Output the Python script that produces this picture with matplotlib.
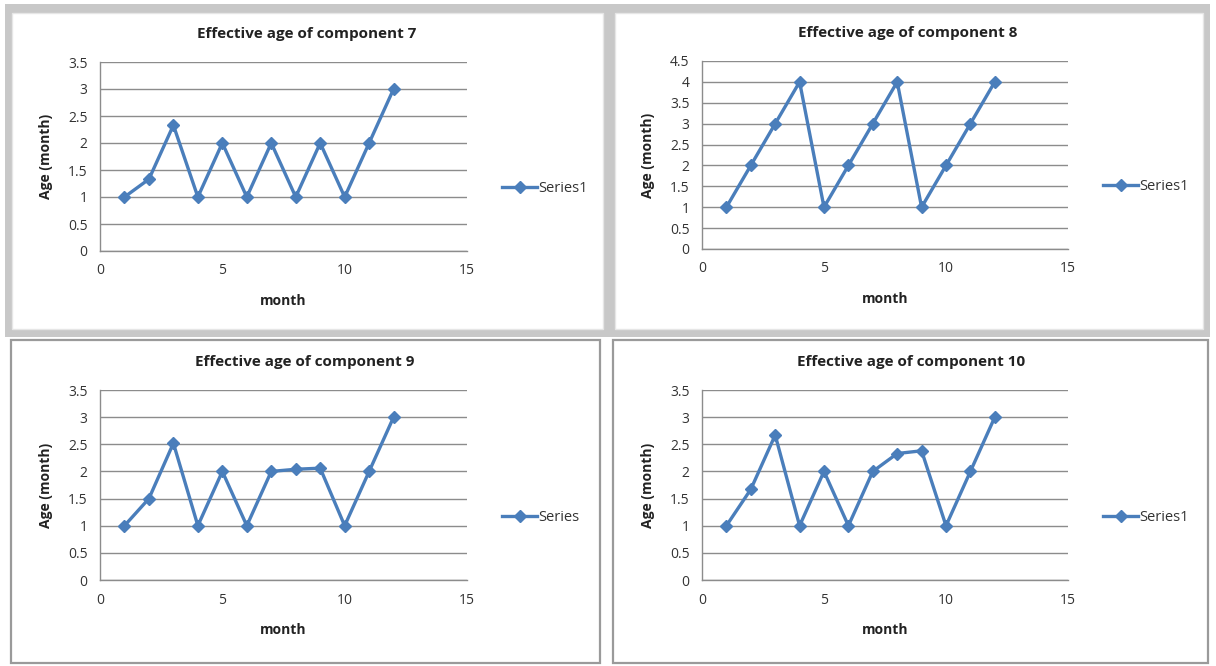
import matplotlib
matplotlib.use("Agg")
import matplotlib.pyplot as plt
from matplotlib.patches import Rectangle
from matplotlib.ticker import FuncFormatter, MultipleLocator

W, H = 1216, 666

months = list(range(1, 13))
age_c7 = [1, 1.33, 2.33, 1, 2, 1, 2, 1, 2, 1, 2, 3]
age_c8 = [1, 2, 3, 4, 1, 2, 3, 4, 1, 2, 3, 4]
age_c9 = [1, 1.5, 2.52, 1, 2, 1, 2, 2.04, 2.06, 1, 2, 3]
age_c10 = [1, 1.67, 2.67, 1, 2, 1, 2, 2.33, 2.38, 1, 2, 3]

titles = ["Effective age of component 7", "Effective age of component 8",
          "Effective age of component 9", "Effective age of component 10"]
legend_names = ["Series1", "Series1", "Series", "Series1"]
ymaxes = [3.5, 4.5, 3.5, 3.5]

BLUE = "#4a7ebb"
GRID = "#8c8c8c"
FONT = "Open Sans"


def px_rect(x0, y0, x1, y1):
    """pixel box (top-left origin) -> figure fraction [l, b, w, h]"""
    return [x0 / W, 1 - y1 / H, (x1 - x0) / W, (y1 - y0) / H]


fig = plt.figure(figsize=(W / 100, H / 100), dpi=100)
fig.patch.set_facecolor("white")

# frames around the panels (picture of Excel charts)
frames = [
    ((5, 4, 1210, 337), "#c8c8c8", "#c8c8c8", 0),
    ((12, 13, 603, 329), "white", "#e6e6e6", 1.0),
    ((615, 13, 1203, 329), "white", "#e6e6e6", 1.0),
    ((11, 340, 600, 663), "white", "#9a9a9a", 1.6),
    ((613, 340, 1208, 663), "white", "#9a9a9a", 1.6),
]
for (x0, y0, x1, y1), fc, ec, lw in frames:
    l, b, w, h = px_rect(x0, y0, x1, y1)
    fig.patches.append(Rectangle((l, b), w, h, transform=fig.transFigure,
                                 facecolor=fc, edgecolor=ec, linewidth=lw,
                                 zorder=-10))

# plot areas (pixels) and the chart-box centre the title sits over
axes_px = [(100, 62, 467, 251), (702, 61, 1068, 249),
           (100, 390, 467, 580), (702, 390, 1068, 580)]
title_cx = [307, 908, 305, 911]
series = [age_c7, age_c8, age_c9, age_c10]

for box, cx, ys, title, name, ymax in zip(axes_px, title_cx, series, titles,
                                          legend_names, ymaxes):
    ax = fig.add_axes(px_rect(*box))
    ax.set_zorder(5)
    ax.set_facecolor("none")
    ax.plot(months, ys, color=BLUE, lw=2.4, marker="D", ms=6,
            markerfacecolor=BLUE, markeredgecolor=BLUE, label=name, zorder=3)
    ax.set_xlim(0, 15)
    ax.set_ylim(0, ymax)
    ax.xaxis.set_major_locator(MultipleLocator(5))
    ax.yaxis.set_major_locator(MultipleLocator(0.5))
    ax.yaxis.set_major_formatter(FuncFormatter(lambda v, p: f"{v:g}"))
    ax.grid(axis="y", color=GRID, lw=1.0)
    ax.set_axisbelow(True)
    for s in ("top", "right"):
        ax.spines[s].set_visible(False)
    for s in ("left", "bottom"):
        ax.spines[s].set_color(GRID)
        ax.spines[s].set_linewidth(1.0)
    ax.tick_params(length=0, labelsize=10, labelcolor="#333333", pad=9)
    for lab in ax.get_xticklabels() + ax.get_yticklabels():
        lab.set_fontfamily(FONT)
    tx = (cx - box[0]) / (box[2] - box[0])
    ax.set_title(title, fontsize=11, fontweight="bold", family=FONT, pad=17,
                 color="#222222", x=tx)
    ax.set_xlabel("month", fontsize=10, fontweight="bold", family=FONT,
                  labelpad=11, color="#222222")
    ax.set_ylabel("Age (month)", fontsize=10, fontweight="bold", family=FONT,
                  labelpad=11, color="#222222")
    leg = ax.legend(loc="center left", bbox_to_anchor=(1.06, 0.33),
                    frameon=False, handlelength=2.4, handletextpad=0.1,
                    prop={"family": FONT, "size": 10.5})
    for t in leg.get_texts():
        t.set_color("#333333")

fig.savefig("out.png", dpi=100)
